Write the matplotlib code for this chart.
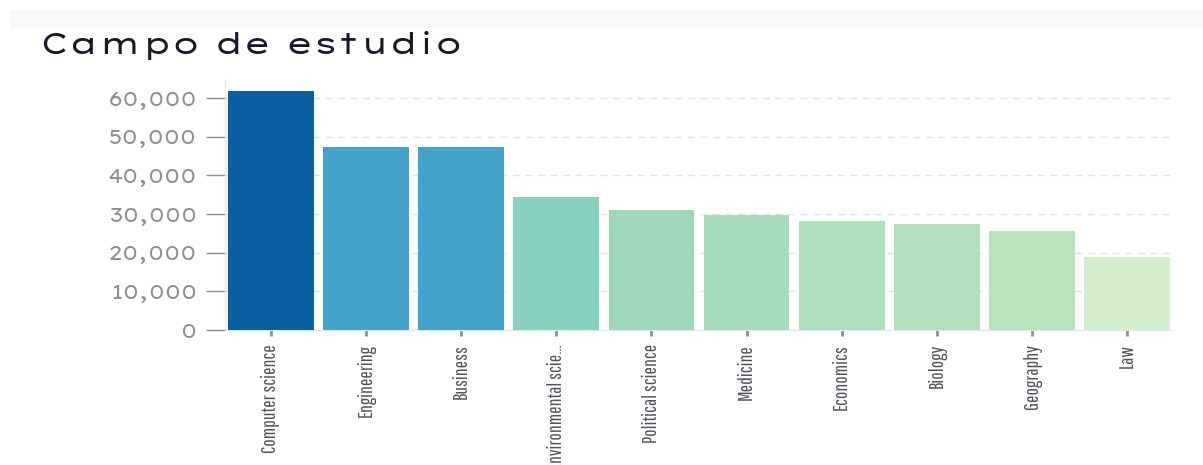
import numpy as np
import matplotlib.pyplot as plt
from matplotlib import font_manager
from matplotlib.patches import Rectangle
from matplotlib.ticker import FuncFormatter

# data
fields = ["Computer science", "Engineering", "Business", "Environmental scie...",
          "Political science", "Medicine", "Economics", "Biology", "Geography", "Law"]
counts = [61800, 47300, 47300, 34400, 31100, 29700, 28200, 27500, 25700, 19000]
bar_colors = ["#0b5fa0", "#43a2ca", "#43a2ca", "#88d0c0", "#9dd8bb",
              "#a6dcbc", "#aedfbc", "#b1e0bb", "#b9e3bc", "#d3eecd"]

installed = {f.name for f in font_manager.fontManager.ttflist}


def pick(*fams):
    for f in fams:
        if f in installed:
            return f
    return "DejaVu Sans"


title_font = pick("Lexend Zetta", "Lexend Tera", "Lexend Peta", "Lexend Mega")
tick_font = pick("Lexend Zetta", "Lexend Tera", "Lexend Peta", "Lexend Mega")
narrow_font = pick("Pathway Gothic One", "Fira Sans Extra Condensed", "Roboto Condensed")

fig = plt.figure(figsize=(12.03, 4.65), dpi=100)
fig.patches.append(Rectangle((10 / 1203, 1 - 27 / 465), 1193 / 1203, 17 / 465,
                             transform=fig.transFigure, color="#f7f8fa", zorder=0))
fig.text(40 / 1203, 1 - 54 / 465, "Campo de estudio", fontsize=21.5, color="#15192a",
         fontweight="bold", va="baseline", ha="left", family=title_font)

ax = fig.add_axes([225 / 1203, 1 - 330 / 465, (1172 - 225) / 1203, (330 - 78.7) / 465])
x = np.arange(len(fields))
ax.bar(x, counts, width=0.9, color=bar_colors, zorder=3)
ax.set_xlim(-0.48, 9.47)
ax.set_ylim(0, 65000)
ax.set_yticks(np.arange(0, 60001, 10000))
ax.yaxis.set_major_formatter(FuncFormatter(lambda v, p: f"{int(v):,}"))
ax.grid(axis="y", color="#dfe4ea", linestyle=(0, (5, 4)), linewidth=1, zorder=0)

for side in ["top", "right"]:
    ax.spines[side].set_visible(False)
ax.spines["left"].set_color("#e3e8f0")
ax.spines["bottom"].set_color("#e3e8f0")

ax.tick_params(axis="y", length=14, color="#8a8f96", width=1, pad=6,
               labelsize=14, labelcolor="#8a8f96")
for lab in ax.get_yticklabels():
    lab.set_family(tick_font)
ax.tick_params(axis="x", length=4, color="#8a8f96", width=2, pad=6,
               labelsize=14, labelcolor="#4d5159")
ax.set_xticks(x)
ax.set_xticklabels(fields, rotation=90, family=narrow_font, va="top", ha="center")

fig.savefig("out.png", dpi=100)
